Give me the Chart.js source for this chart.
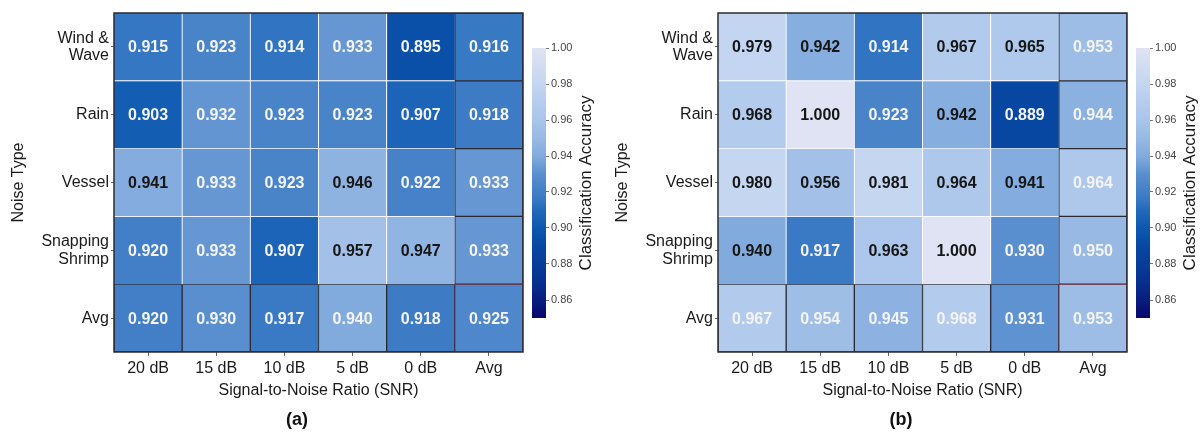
<!DOCTYPE html>
<html>
<head>
<meta charset="utf-8">
<script src="https://cdn.jsdelivr.net/npm/chart.js@4"></script>
<style>
  body { margin: 0; background: #fff; overflow: hidden; }
  .panel { position: absolute; top: 0; width: 600px; height: 436px; }
  .panel canvas { position: absolute; top: 0; }
</style>
</head>
<body>
<div class="panel" style="left:0">
  <canvas id="heatA" width="600" height="436" style="left:0"></canvas>
  <canvas id="barA" width="76" height="436" style="left:520px"></canvas>
</div>
<div class="panel" style="left:604px; width:596px">
  <canvas id="heatB" width="596" height="436" style="left:0"></canvas>
  <canvas id="barB" width="76" height="436" style="left:520px"></canvas>
</div>
<script>
// categories
const snrLabels = ['20 dB', '15 dB', '10 dB', '5 dB', '0 dB', 'Avg']
const noiseLabels = [['Wind &', 'Wave'], 'Rain', 'Vessel', ['Snapping', 'Shrimp'], 'Avg']

// classification accuracy, one list per noise type row (last row / column = average)
const accuracyA = [
  [0.915, 0.923, 0.914, 0.933, 0.895, 0.916],
  [0.903, 0.932, 0.923, 0.923, 0.907, 0.918],
  [0.941, 0.933, 0.923, 0.946, 0.922, 0.933],
  [0.920, 0.933, 0.907, 0.957, 0.947, 0.933],
  [0.920, 0.930, 0.917, 0.940, 0.918, 0.925]
]
const accuracyB = [
  [0.979, 0.942, 0.914, 0.967, 0.965, 0.953],
  [0.968, 1.000, 0.923, 0.942, 0.889, 0.944],
  [0.980, 0.956, 0.981, 0.964, 0.941, 0.964],
  [0.940, 0.917, 0.963, 1.000, 0.930, 0.950],
  [0.967, 0.954, 0.945, 0.968, 0.931, 0.953]
]

// colour bar range and ticks
const cbMin = 0.85
const cbMax = 1.00
const cbTicks = [0.86, 0.88, 0.90, 0.92, 0.94, 0.96, 0.98, 1.00]

// colour map stops (value -> colour)
const cmap = [
  [0.85, '#08086b'], [0.87, '#07308f'], [0.89, '#0748a2'], [0.90, '#0c58ae'],
  [0.91, '#2369bb'], [0.915, '#3577c3'], [0.92, '#427fc7'], [0.93, '#5a8fcf'],
  [0.94, '#82abdd'], [0.95, '#98b9e4'], [0.96, '#a8c5ea'], [0.97, '#b6cdee'],
  [0.98, '#c4d6f0'], [1.00, '#e0e3f4']
]

const FONT = '"Liberation Sans", Arial, sans-serif'
Chart.defaults.font.family = FONT
Chart.defaults.color = '#1a1a1a'

function hex2rgb(h) {
  return [parseInt(h.slice(1, 3), 16), parseInt(h.slice(3, 5), 16), parseInt(h.slice(5, 7), 16)]
}
function colorFor(v) {
  if (v <= cmap[0][0]) return cmap[0][1]
  for (let i = 1; i < cmap.length; i++) {
    if (v <= cmap[i][0]) {
      const t = (v - cmap[i - 1][0]) / (cmap[i][0] - cmap[i - 1][0])
      const a = hex2rgb(cmap[i - 1][1]), b = hex2rgb(cmap[i][1])
      const c = a.map((x, k) => Math.round(x + (b[k] - x) * t))
      return 'rgb(' + c.join(',') + ')'
    }
  }
  return cmap[cmap.length - 1][1]
}

const darkLine = '#2b2b35'
const redLine = '#8b2c3c'
const isAvg = (ri, ci) => ri === 4 || ci === 5

// draws the numbers inside the cells
function cellText(values) {
  return {
    id: 'cellText',
    afterDatasetsDraw(chart) {
      const { ctx, scales: { x, y } } = chart
      ctx.save()
      ctx.font = 'bold 16px ' + FONT
      ctx.textAlign = 'center'
      ctx.textBaseline = 'middle'
      values.forEach((row, ri) => row.forEach((v, ci) => {
        ctx.fillStyle = (!isAvg(ri, ci) && v > 0.936) ? '#161616' : '#f4f4f4'
        ctx.fillText(v.toFixed(3), x.getPixelForValue(ci), y.getPixelForValue(ri) + 1)
      }))
      ctx.restore()
    }
  }
}

// dark frame and panel tag
function frame(tag) {
  return {
    id: 'frame',
    afterDraw(chart) {
      const { ctx, chartArea: a } = chart
      ctx.save()
      ctx.strokeStyle = darkLine
      ctx.lineWidth = 1.5
      ctx.strokeRect(a.left, a.top, a.right - a.left, a.bottom - a.top)
      ctx.font = 'bold 18px ' + FONT
      ctx.fillStyle = '#111'
      ctx.textAlign = 'center'
      ctx.textBaseline = 'middle'
      ctx.fillText(tag, 297, 420)
      ctx.restore()
    }
  }
}

function makeHeatmap(id, values, tag, width) {
  const datasets = values.map((row, ri) => ({
    label: 'row' + ri,
    data: row.map(() => [ri - 0.5, ri + 0.5]),
    backgroundColor: row.map(v => colorFor(v)),
    borderColor: row.map((v, ci) => (ri === 4 && ci === 5) ? redLine : (isAvg(ri, ci) ? darkLine : '#ffffff')),
    borderWidth: row.map((v, ci) => isAvg(ri, ci) ? 1 : {
      top: ri === 0 ? 0 : 0.8, left: ci === 0 ? 0 : 0.8,
      right: ci === 4 ? 0 : 0.8, bottom: ri === 3 ? 0 : 0.8
    }),
    borderSkipped: false,
    barPercentage: 1,
    categoryPercentage: 1,
    grouped: false
  }))

  new Chart(document.getElementById(id), {
    type: 'bar',
    data: { labels: snrLabels, datasets: datasets },
    options: {
      responsive: false,
      animation: false,
      layout: { padding: { left: 0, top: 13, right: width - 523, bottom: 0 } },
      plugins: { legend: { display: false }, tooltip: { enabled: false } },
      scales: {
        x: {
          afterFit: s => { s.height = 84 },
          ticks: { font: { size: 16 }, color: '#1a1a1a', padding: 3, maxRotation: 0 },
          grid: { offset: false, drawOnChartArea: false, tickLength: 4, tickColor: '#666' },
          border: { display: false },
          title: { display: true, text: 'Signal-to-Noise Ratio (SNR)', font: { size: 16 }, color: '#1a1a1a', padding: { top: 0, bottom: 36 } }
        },
        y: {
          type: 'linear',
          min: -0.5,
          max: 4.5,
          reverse: true,
          z: 1,
          afterBuildTicks: s => { s.ticks = noiseLabels.map((_, i) => ({ value: i })) },
          afterFit: s => { s.width = 114 },
          ticks: { callback: v => noiseLabels[v], font: { size: 16, lineHeight: 1.1 }, color: '#1a1a1a', padding: 2 },
          grid: { color: 'rgba(255,255,255,0.28)', tickColor: '#666', tickLength: 3, tickBorderDash: [] },
          border: { display: false, dash: [4, 4] },
          title: { display: true, text: 'Noise Type', font: { size: 16 }, color: '#1a1a1a', padding: { top: 9, bottom: 0 } }
        }
      }
    },
    plugins: [cellText(values), frame(tag)]
  })
}

function makeColorbar(id) {
  const cbTitle = {
    id: 'cbTitle',
    afterDraw(chart) {
      const { ctx, chartArea: a } = chart
      ctx.save()
      ctx.translate(66, (a.top + a.bottom) / 2)
      ctx.rotate(-Math.PI / 2)
      ctx.font = '17px ' + FONT
      ctx.fillStyle = '#1a1a1a'
      ctx.textAlign = 'center'
      ctx.textBaseline = 'middle'
      ctx.fillText('Classification Accuracy', 0, 0)
      ctx.restore()
    }
  }
  new Chart(document.getElementById(id), {
    type: 'bar',
    data: {
      labels: [''],
      datasets: [{
        data: [[cbMin, cbMax]],
        backgroundColor: ctx => {
          const { chart } = ctx
          const area = chart.chartArea
          if (!area) return cmap[0][1]
          const g = chart.ctx.createLinearGradient(0, area.bottom, 0, area.top)
          cmap.forEach(([v, c]) => g.addColorStop((v - cbMin) / (cbMax - cbMin), c))
          return g
        },
        borderWidth: 0,
        barPercentage: 1,
        categoryPercentage: 1
      }]
    },
    options: {
      responsive: false,
      animation: false,
      layout: { padding: { left: 12, top: 48, right: 0, bottom: 118 } },
      plugins: { legend: { display: false }, tooltip: { enabled: false } },
      scales: {
        x: { display: false },
        y: {
          position: 'right',
          min: cbMin,
          max: cbMax,
          afterBuildTicks: s => { s.ticks = cbTicks.map(v => ({ value: v })) },
          afterFit: s => { s.width = 50 },
          ticks: { callback: v => v.toFixed(2), font: { size: 11 }, color: '#444', padding: 2 },
          grid: { drawOnChartArea: false, tickLength: 3, tickColor: '#777' },
          border: { display: false }
        }
      }
    },
    plugins: [cbTitle]
  })
}

makeHeatmap('heatA', accuracyA, '(a)', 600)
makeHeatmap('heatB', accuracyB, '(b)', 596)
makeColorbar('barA')
makeColorbar('barB')
</script>
</body>
</html>
